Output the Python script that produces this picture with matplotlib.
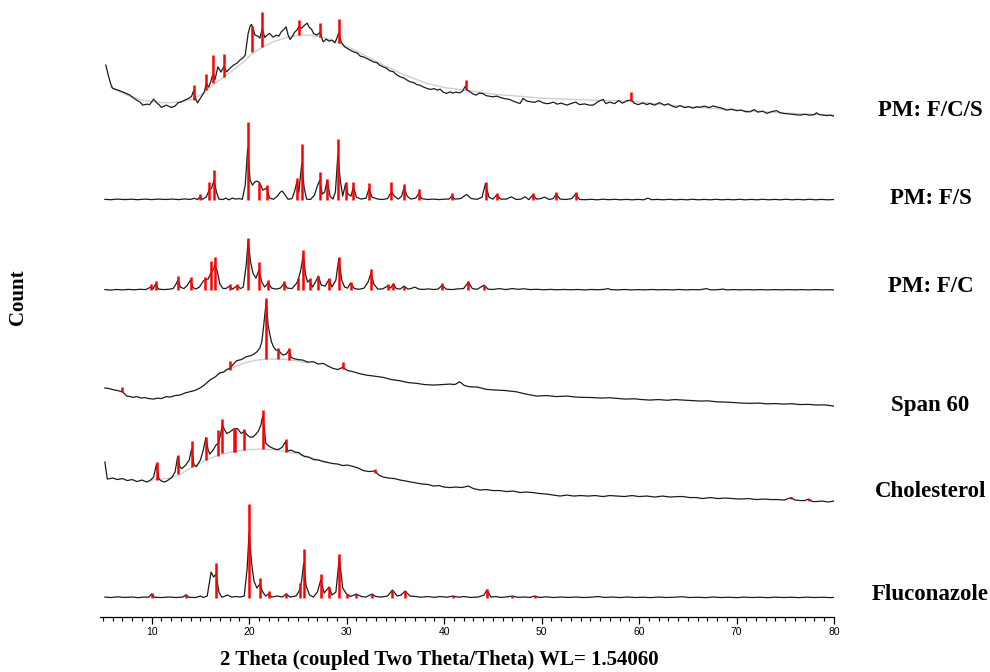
import numpy as np
import matplotlib.pyplot as plt
from matplotlib.ticker import MultipleLocator

# ---- data: (2theta, counts) ----
fluconazole = [
    (5.2, 1), (5.8, 0.5), (6.5, 1.2), (7.2, 0.6), (8.0, 1), (8.6, 0.4), (9.3, 1), (9.7, 0.8), (10.0, 4),
    (10.3, 0.8), (11.0, 0.5), (11.8, 1), (12.5, 0.5), (13.2, 1), (13.5, 3), (13.8, 0.8), (14.5, 0.5),
    (15.0, 2), (15.3, 0.6), (15.7, 2), (16.1, 26), (16.35, 21), (16.6, 24), (16.9, 6), (17.2, 0.8),
    (17.8, 3), (18.2, 1), (18.7, 1.5), (19.1, 1), (19.5, 2), (19.8, 30), (20.0, 66), (20.25, 35),
    (20.5, 17), (20.8, 10), (21.1, 14), (21.4, 6), (21.7, 2), (22.0, 4), (22.3, 1), (22.9, 2), (23.4, 1),
    (23.8, 4), (24.2, 1), (24.8, 2), (25.2, 8), (25.4, 18), (25.6, 35), (25.85, 12), (26.2, 3), (26.6, 1),
    (27.0, 6), (27.35, 18), (27.7, 5), (28.2, 11), (28.5, 3), (28.9, 6), (29.25, 40), (29.6, 10),
    (30.0, 4), (30.4, 1.5), (31.0, 4), (31.5, 1.5), (32.0, 1), (32.6, 4), (33.0, 1.5), (33.6, 1),
    (34.2, 2), (34.7, 8), (35.2, 2), (35.6, 3), (36.0, 7), (36.5, 2), (37.1, 1.5), (37.6, 0.8),
    (38.3, 1.5), (39.0, 0.7), (39.6, 1.5), (40.3, 0.8), (40.9, 2), (41.5, 0.8), (42.0, 1.5), (42.7, 0.6),
    (43.5, 1), (44.1, 3), (44.4, 8), (44.8, 1), (45.3, 1.5), (45.8, 0.6), (46.5, 1.2), (47.0, 2),
    (47.5, 0.8), (48.3, 1), (48.8, 0.6), (49.3, 2), (49.8, 0.6), (50.5, 1.2), (51.2, 0.5), (52.0, 1),
    (52.8, 0.6), (53.5, 1), (54.3, 0.5), (55.0, 0.8), (55.8, 1.5), (56.5, 0.6), (57.3, 1), (58.0, 0.5),
    (58.8, 1), (59.6, 0.5), (60.4, 0.8), (61.2, 0.4), (62.0, 1), (62.8, 0.5), (63.6, 0.8), (64.4, 1.3),
    (65.2, 0.5), (66.0, 0.8), (66.8, 0.4), (67.6, 1), (68.4, 0.5), (69.2, 0.8), (70.0, 0.4), (70.8, 0.9),
    (71.6, 0.5), (72.4, 0.8), (73.2, 0.4), (74.0, 0.9), (74.8, 0.5), (75.6, 0.8), (76.4, 0.4), (77.2, 0.9),
    (78.0, 0.5), (78.8, 0.8), (79.6, 0.4), (80.0, 0.6),
]
fluconazole_sticks = [
    (10.0, 0, 5.5), (13.5, 0, 4.5), (16.6, 0, 35), (20.0, 0, 94), (21.1, 0, 20), (22.0, 0, 7), (23.8, 0, 5),
    (25.2, 0, 15), (25.6, 0, 49), (27.4, 0, 24), (28.2, 0, 11), (29.2, 0, 44), (30.0, 0, 4), (31.0, 0, 4),
    (32.6, 0, 4), (34.7, 0, 8), (36.0, 0, 7), (40.9, 0, 2), (44.4, 0, 9), (47.0, 0, 2), (49.3, 0, 2),
]

cholesterol = [
    (5.2, 43), (5.45, 26), (6.0, 27), (6.5, 25.5), (7.0, 26.5), (7.5, 24.5), (8.0, 25.5), (8.5, 23.5),
    (9.0, 25), (9.5, 23), (9.9, 25), (10.2, 28), (10.5, 41), (10.75, 26), (11.0, 24), (11.35, 23),
    (11.7, 25), (12.1, 28), (12.4, 33), (12.66, 48), (12.9, 38), (13.1, 36.5), (13.5, 40), (13.85, 45),
    (14.1, 56), (14.35, 40), (14.6, 38.5), (15.0, 45), (15.3, 55), (15.56, 67.5), (15.8, 55), (15.97, 51),
    (16.3, 55), (16.6, 60), (16.85, 62), (17.05, 70), (17.25, 80), (17.45, 76), (17.7, 71.5), (18.0, 73),
    (18.4, 76), (18.8, 76.5), (19.2, 71.5), (19.5, 74), (19.8, 70), (20.1, 68), (20.4, 68), (20.7, 71),
    (20.95, 74), (21.2, 80), (21.4, 89), (21.55, 78), (21.7, 62), (21.9, 60), (22.1, 58.5), (22.4, 57),
    (22.8, 55.5), (23.1, 56), (23.4, 58), (23.74, 63.5), (23.95, 54), (24.3, 55), (24.7, 53), (25.1, 52.5),
    (25.4, 50), (25.7, 48.5), (26.1, 48), (26.6, 45.5), (27.1, 45), (27.6, 43.5), (28.1, 42.5), (28.6, 41.5),
    (29.1, 41), (29.6, 39.5), (30.1, 40), (30.7, 38.5), (31.2, 37), (31.7, 34.5), (32.3, 33.5), (32.9, 34),
    (33.3, 30), (33.75, 28), (34.3, 27), (34.9, 26.5), (35.5, 25), (36.1, 24), (36.6, 23), (37.2, 22),
    (37.8, 21), (38.4, 20.5), (38.9, 19), (39.5, 19.5), (40.0, 18), (40.6, 17.5), (41.2, 18), (41.8, 17.5),
    (42.5, 19), (43.0, 16.5), (43.7, 15), (44.3, 15.5), (45.0, 14.5), (45.7, 14.5), (46.4, 13.5), (47.1, 14),
    (47.8, 12.5), (48.4, 13), (49.1, 12.5), (49.8, 11.5), (50.5, 11), (51.2, 10), (51.9, 9), (52.6, 10),
    (53.3, 9), (54.0, 9.5), (54.8, 9), (55.5, 9.5), (56.3, 8.5), (57.0, 9.5), (57.7, 9), (58.5, 8.5),
    (59.3, 9.5), (60.0, 8.5), (60.8, 9), (61.6, 8), (62.4, 9), (63.2, 8), (64.0, 8.5), (64.5, 8.5),
    (65.2, 7.5), (65.9, 7.5), (66.5, 6.5), (67.3, 7.5), (68.1, 6.5), (68.8, 7), (69.6, 6.5), (70.4, 6),
    (71.2, 6.5), (72.0, 5.5), (72.8, 6), (73.5, 5.5), (74.2, 5.5), (74.9, 5), (75.6, 7.5), (76.0, 5),
    (76.6, 4.5), (77.0, 4.5), (77.4, 6), (77.8, 3.5), (78.2, 3.5), (78.8, 4), (79.4, 3), (80.0, 4),
]
cholesterol_bg = [
    (10.0, 25), (11.9, 27), (13.0, 31), (14.1, 38), (15.6, 45), (17.0, 50.5), (18.4, 53.5), (20.0, 55.5),
    (21.4, 56), (22.8, 55), (23.8, 53.3), (25.1, 51), (26.5, 47), (28.0, 43),
]
cholesterol_sticks = [
    (10.5, 25, 43), (12.66, 31, 50), (14.1, 38, 64), (15.56, 45, 68), (16.83, 49, 75), (17.24, 51.7, 86),
    (18.4, 53.3, 76), (18.6, 53.5, 76), (19.5, 55, 76.5), (21.4, 55.7, 95), (23.74, 53.3, 66),
    (32.9, 31.7, 36.5), (75.6, 6, 8.5), (77.4, 4, 6),
]

span60 = [
    (5.2, 22), (5.55, 21.7), (6.0, 20.5), (6.5, 19.5), (6.98, 18.3), (7.2, 16.5), (7.43, 14), (7.8, 13.5),
    (8.1, 12.7), (8.5, 13.5), (8.9, 12), (9.3, 12.5), (9.7, 11.5), (10.2, 11), (10.6, 12), (11.0, 11.5),
    (11.5, 13.5), (11.9, 13), (12.4, 14.5), (12.9, 15), (13.4, 17), (13.9, 18.3), (14.4, 19.5), (14.9, 21.7),
    (15.4, 25), (15.97, 30), (16.5, 33), (17.0, 37.3), (17.4, 38), (17.7, 40.5), (18.0, 41.7), (18.4, 46),
    (18.7, 49.3), (19.2, 50.5), (19.7, 53.3), (20.2, 54.5), (20.5, 56), (20.8, 58.3), (21.1, 62), (21.3, 68.3),
    (21.5, 85), (21.75, 108.3), (21.95, 85), (22.1, 76.7), (22.3, 68), (22.5, 63.3), (22.75, 60), (23.0, 60),
    (23.25, 57), (23.5, 55), (23.8, 56), (24.1, 60), (24.3, 53), (24.5, 51.7), (25.0, 50.5), (25.5, 50),
    (26.0, 48), (26.6, 48.3), (27.1, 46), (27.6, 46.7), (28.1, 44), (28.6, 41.7), (29.1, 40.5), (29.6, 42.7),
    (30.1, 39.5), (30.7, 38.3), (31.3, 36.5), (32.0, 35), (32.8, 34), (33.75, 32.7), (34.6, 30.5),
    (35.5, 29.3), (36.3, 27.5), (37.2, 26.7), (38.0, 25.5), (38.9, 25), (39.8, 25.5), (40.6, 26), (41.1, 25.5),
    (41.6, 28.3), (42.1, 24.5), (42.6, 23.3), (43.4, 23), (44.35, 20.7), (45.3, 20), (46.3, 19.5),
    (47.4, 18.3), (48.4, 16), (49.5, 14), (50.5, 14.5), (51.5, 13.5), (52.6, 14), (53.5, 13), (54.3, 12.7),
    (55.2, 12.5), (56.1, 12), (57.0, 12.3), (57.7, 11.7), (58.6, 11), (59.5, 11.3), (60.3, 10.5), (61.1, 10),
    (62.0, 10.5), (62.9, 9.8), (63.7, 10.5), (64.5, 10), (65.4, 9.5), (66.3, 9), (67.1, 9.2), (67.9, 8.3),
    (68.8, 8), (69.6, 7.6), (70.5, 7), (71.4, 6.7), (72.3, 7), (73.1, 6.2), (74.0, 6.5), (74.8, 6),
    (75.7, 6.3), (76.5, 5.5), (77.4, 5.7), (78.2, 5), (79.0, 5.2), (79.6, 4.5), (80.0, 4),
]
span60_bg = [
    (16.8, 36), (17.8, 40.5), (18.8, 44.5), (19.8, 48), (20.8, 50), (21.75, 51), (22.8, 51), (23.8, 50.5),
    (25.0, 49), (26.0, 47),
]
span60_sticks = [
    (6.98, 18.3, 22.7), (18.0, 40.5, 49.3), (21.75, 51, 111.7), (23.0, 51, 61.7), (24.1, 50.5, 61.7),
    (29.6, 40.7, 48.3),
]

pm_fc = [
    (5.2, 0.5), (5.8, 0), (6.4, 0.6), (7.0, 0.2), (7.6, 0.7), (8.2, 0.3), (8.8, 0.8), (9.4, 0.5), (9.9, 3),
    (10.15, 1.2), (10.4, 6), (10.7, 1), (11.2, 0.5), (11.7, 0.8), (12.2, 1.5), (12.5, 6), (12.7, 10),
    (12.95, 3), (13.3, 1.5), (13.6, 4), (14.0, 10), (14.2, 3), (14.5, 1), (14.9, 3), (15.3, 9), (15.5, 10.7),
    (15.8, 11), (16.05, 16.7), (16.3, 20), (16.5, 25), (16.75, 18), (17.0, 6), (17.3, 1.7), (17.6, 1.5),
    (18.0, 4), (18.3, 1), (18.8, 4.5), (19.1, 1.5), (19.4, 3), (19.7, 25), (19.9, 50), (20.15, 28),
    (20.4, 16.7), (20.7, 12), (21.0, 20), (21.3, 8), (21.6, 3), (21.95, 7.3), (22.3, 2), (22.8, 1), (23.2, 2),
    (23.6, 7), (23.9, 2), (24.4, 1.5), (24.8, 6), (25.0, 9), (25.3, 20), (25.55, 35), (25.8, 15), (26.0, 8),
    (26.2, 10), (26.5, 3), (26.8, 8), (27.1, 14), (27.4, 5), (27.8, 4), (28.2, 10.7), (28.5, 3), (28.9, 10),
    (29.2, 31.7), (29.5, 10), (29.8, 3), (30.1, 2), (30.4, 7), (30.8, 1.5), (31.3, 0.8), (31.8, 2), (32.2, 8),
    (32.5, 16.7), (32.8, 6), (33.2, 1), (33.7, 1.2), (34.2, 4), (34.5, 2), (34.8, 6), (35.1, 1.5), (35.5, 1),
    (35.9, 4), (36.3, 1), (36.6, 1.5), (37.0, 3), (37.4, 1), (37.9, 0.7), (38.4, 1.2), (38.9, 0.6), (39.4, 1),
    (39.8, 5), (40.2, 1), (40.8, 0.5), (41.4, 1.2), (42.0, 1.5), (42.5, 8), (42.9, 1.5), (43.4, 0.8),
    (44.1, 5), (44.5, 1), (45.0, 0.6), (45.7, 1.5), (46.3, 0.5), (47.0, 1.5), (47.6, 0.8), (48.2, 1.3),
    (48.8, 0.5), (49.5, 0.8), (50.2, 0.3), (50.9, 0.7), (51.6, 0.3), (52.3, 0.6), (53.0, 0.3), (53.7, 0.6),
    (54.4, 0.2), (55.1, 0.6), (55.8, 0.3), (56.5, 0.8), (56.8, 1.5), (57.1, 0.5), (57.8, 0.2), (58.5, 0.6),
    (59.2, 0.2), (59.9, 0.5), (60.6, 0.2), (61.3, 0.6), (62.0, 0.2), (62.7, 0.5), (63.4, 0.2), (64.1, 0.6),
    (64.8, 0.2), (65.5, 0.5), (66.2, 0.3), (66.9, 1.5), (67.3, 0.3), (68.0, 0.3), (68.6, 1), (69.0, 0.2),
    (69.7, 0.5), (70.4, 0.2), (71.1, 0.5), (71.8, 0.2), (72.5, 0.5), (73.2, 0.2), (73.9, 0.5), (74.6, 0.2),
    (75.3, 0.5), (76.0, 0.2), (76.7, 0.5), (77.4, 0.2), (78.1, 0.5), (78.8, 0.2), (79.5, 0.4), (80.0, 0.2),
]
pm_fc_sticks = [
    (9.9, 0, 6), (10.4, 0, 9), (12.7, 0, 14), (14.0, 0, 13.3), (15.5, 0, 13.3), (16.05, 0, 29), (16.5, 0, 33.3),
    (18.0, 0, 6), (18.8, 0, 6.5), (19.9, 0, 52), (21.0, 0, 27.7), (21.95, 0, 10), (23.6, 0, 9), (25.0, 0, 11.7),
    (25.55, 0, 40), (26.2, 0, 11.7), (27.1, 0, 14.3), (28.2, 0, 11.7), (29.2, 0, 33.3), (30.4, 0, 8.3),
    (32.5, 0, 21), (34.2, 0, 6), (34.8, 0, 7), (35.9, 0, 4), (39.8, 0, 7), (42.5, 0, 9), (44.1, 0, 5),
]

pm_fs = [
    (5.2, 0.7), (5.8, 0.4), (6.5, 1), (7.2, 0.5), (7.9, 0.9), (8.6, 0.4), (9.3, 1), (10.0, 0.5), (10.7, 1),
    (11.4, 0.6), (12.1, 1), (12.8, 0.5), (13.4, 1.2), (13.9, 0.6), (14.4, 1.8), (14.7, 0.5), (14.95, 3.3),
    (15.2, 0.8), (15.6, 3), (15.9, 10), (16.15, 12), (16.4, 20), (16.65, 8), (16.9, 1), (17.3, 0.5), (17.6, 2),
    (17.9, 0.3), (18.3, 2), (18.6, 1), (19.0, 1.5), (19.3, 0.8), (19.6, 15), (19.85, 51.7), (20.1, 20),
    (20.35, 15), (20.6, 18.3), (20.85, 19), (21.1, 17), (21.4, 10), (21.8, 12), (22.1, 2), (22.5, 0.8),
    (22.9, 4), (23.2, 8), (23.4, 9), (23.7, 5), (24.0, 0.8), (24.4, 1.5), (24.7, 10), (24.9, 18.3), (25.1, 8),
    (25.4, 36.7), (25.65, 12), (25.9, 1), (26.3, 0.6), (26.7, 5), (27.0, 14), (27.25, 20), (27.5, 6),
    (27.75, 8), (28.0, 20), (28.3, 4), (28.6, 1), (28.85, 8), (29.1, 45), (29.35, 20), (29.6, 4), (29.9, 16.7),
    (30.15, 6), (30.45, 4), (30.7, 13.3), (31.0, 3), (31.5, 1), (32.0, 2), (32.3, 11.7), (32.6, 3), (33.2, 1),
    (33.7, 0.6), (34.2, 1.5), (34.6, 8.3), (34.9, 4), (35.3, 1), (35.65, 4), (35.9, 12.7), (36.2, 4),
    (36.6, 1), (37.1, 2), (37.4, 6.7), (37.7, 1.5), (38.3, 0.6), (38.9, 1), (39.5, 0.5), (40.1, 1),
    (40.5, 1), (40.8, 4), (41.1, 1), (41.7, 1.5), (42.3, 5.7), (42.8, 1.5), (43.4, 0.8), (43.9, 3),
    (44.25, 16.7), (44.6, 3), (45.0, 1), (45.4, 5), (45.8, 1), (46.4, 1), (46.9, 3.3), (47.4, 0.6), (47.9, 1),
    (48.3, 3.3), (48.7, 0.5), (49.1, 5), (49.5, 1), (49.9, 1.5), (50.3, 3), (50.8, 0.6), (51.2, 1.5),
    (51.5, 6), (51.9, 1), (52.5, 0.6), (53.1, 1.5), (53.5, 6), (53.9, 0.6), (54.5, 0.4), (55.1, 0.8),
    (55.7, 0.3), (56.3, 0.9), (56.9, 0.4), (57.5, 0.8), (58.1, 0.3), (58.7, 0.7), (59.3, 0.3), (59.9, 0.7),
    (60.5, 0.3), (60.9, 2), (61.3, 0.4), (61.9, 0.7), (62.5, 0.3), (63.1, 0.8), (63.7, 0.3), (64.3, 0.7),
    (64.9, 0.3), (65.5, 0.8), (66.1, 0.3), (66.7, 0.7), (67.3, 0.3), (67.9, 0.8), (68.5, 0.3), (69.1, 0.7),
    (69.7, 0.3), (70.3, 0.8), (70.9, 0.3), (71.5, 0.7), (72.1, 0.3), (72.7, 0.8), (73.3, 0.3), (73.9, 0.7),
    (74.5, 0.3), (75.1, 0.8), (75.7, 0.3), (76.3, 0.7), (76.9, 0.3), (77.5, 0.8), (78.1, 0.3), (78.7, 0.7),
    (79.3, 0.3), (80.0, 0.6),
]
pm_fs_sticks = [
    (14.95, 0, 5.7), (15.9, 0, 17.7), (16.4, 0, 30), (19.85, 0, 77.7), (21.0, 0, 16.7), (21.8, 0, 15),
    (24.9, 0, 22.3), (25.4, 0, 55.7), (27.25, 0, 28.3), (28.0, 0, 21), (29.1, 0, 61), (29.9, 0, 18.3),
    (30.7, 0, 18.3), (32.3, 0, 16.7), (34.6, 0, 18.3), (35.9, 0, 16), (37.4, 0, 11), (40.8, 0, 6.7),
    (44.25, 0, 17.7), (45.4, 0, 7.3), (49.1, 0, 6.7), (51.5, 0, 7.7), (53.5, 0, 8.3),
]

pm_fcs = [
    (5.3, 55), (5.55, 45), (5.8, 36), (6.0, 31.7), (6.4, 30.5), (6.74, 29.3), (7.2, 27.5), (7.77, 25),
    (8.1, 22.5), (8.46, 20), (8.8, 18), (9.1, 15), (9.5, 16), (9.8, 15.5), (10.2, 21), (10.5, 17.5),
    (10.8, 15), (11.0, 12.7), (11.5, 15), (12.0, 12.7), (12.4, 14), (12.7, 17.3), (13.0, 18), (13.4, 20),
    (13.9, 22.3), (14.1, 24), (14.3, 29.3), (14.5, 22), (14.7, 17.3), (15.1, 23.3), (15.4, 28), (15.6, 36.7),
    (15.85, 33), (16.05, 38), (16.25, 45), (16.5, 40.7), (16.8, 53.3), (17.1, 48), (17.4, 53.3), (17.7, 48.3),
    (18.05, 52), (18.4, 55), (18.75, 57), (19.05, 60), (19.35, 62), (19.6, 65), (19.9, 86.7), (20.1, 94),
    (20.25, 95.7), (20.45, 90), (20.6, 85), (20.9, 84), (21.1, 82), (21.35, 91.7), (21.6, 82.7), (21.85, 85),
    (22.1, 86.7), (22.45, 83), (22.8, 85), (23.05, 84), (23.3, 88.3), (23.6, 91), (23.8, 93.3), (24.0, 85),
    (24.2, 80.7), (24.45, 84), (24.7, 88.3), (24.9, 90), (25.1, 93.3), (25.4, 92), (25.7, 95), (25.95, 97),
    (26.15, 93), (26.4, 91), (26.6, 86.7), (26.95, 85), (27.3, 88), (27.45, 82), (27.6, 78.3), (27.9, 81),
    (28.2, 79), (28.5, 80), (28.8, 77.3), (29.0, 82), (29.2, 87.3), (29.45, 78), (29.8, 73.3), (30.2, 71),
    (30.7, 68.3), (31.1, 67), (31.4, 64), (31.7, 63.3), (32.1, 61.5), (32.4, 60), (32.8, 58), (33.1, 57.5),
    (33.4, 55), (33.8, 53), (34.1, 52), (34.4, 49.3), (34.8, 48.5), (35.1, 45.5), (35.5, 43.3), (35.9, 42),
    (36.2, 40), (36.5, 38.3), (36.9, 37.5), (37.2, 35.5), (37.5, 35), (37.9, 33), (38.3, 31.5), (38.6, 30.7),
    (39.0, 31.5), (39.3, 30), (39.6, 31), (39.9, 28), (40.25, 26.7), (40.6, 28.3), (40.9, 27), (41.2, 28),
    (41.6, 27.3), (41.9, 29), (42.1, 32.7), (42.2, 34), (42.4, 30), (42.7, 28), (43.0, 26), (43.3, 25),
    (43.6, 27), (44.0, 26.5), (44.3, 24.5), (44.6, 24), (45.0, 23.3), (45.4, 24), (45.8, 22.5), (46.2, 21.5),
    (46.7, 20.7), (47.1, 19), (47.5, 17.5), (47.8, 16.7), (48.1, 21.7), (48.5, 19), (48.9, 18.3),
    (49.3, 17.8), (49.7, 19.5), (50.1, 17.5), (50.5, 16.5), (50.8, 16.7), (51.2, 18), (51.6, 16), (52.0, 17),
    (52.6, 15), (53.0, 16.5), (53.5, 18), (53.9, 15.5), (54.4, 16.2), (54.9, 15), (55.3, 15), (55.8, 18.5),
    (56.3, 20.7), (56.6, 16.5), (57.0, 18), (57.5, 16.5), (57.9, 19.5), (58.3, 17), (58.8, 19.5), (59.2, 20),
    (59.5, 17), (59.9, 15.5), (60.4, 17.2), (60.8, 15.5), (61.1, 16.7), (61.6, 15), (62.1, 17.5), (62.6, 15),
    (63.0, 16.3), (63.4, 14), (63.8, 12.7), (64.2, 14.5), (64.7, 12.5), (65.1, 13.5), (65.5, 12), (66.0, 13.5),
    (66.2, 12.7), (66.7, 14), (67.2, 12.5), (67.6, 14.2), (67.9, 13.3), (68.4, 12.3), (69.0, 10), (69.5, 11),
    (70.0, 9.5), (70.5, 10), (70.9, 8.5), (71.4, 8.3), (71.8, 10.5), (72.2, 8), (72.7, 9), (73.1, 6.7),
    (73.6, 8.5), (74.1, 9.5), (74.5, 7.3), (75.0, 6.5), (75.6, 6), (76.0, 5.5), (76.5, 5), (77.0, 5.8),
    (77.5, 5), (78.0, 5.5), (78.2, 7.3), (78.5, 5.5), (78.9, 5), (79.3, 4.5), (79.6, 5), (80.0, 4),
]
pm_fcs_bg = [
    (5.8, 33), (7.0, 27), (8.0, 23), (9.0, 20), (10.0, 18.5), (11.0, 17.5), (12.0, 17.5), (13.0, 18.5),
    (14.3, 21), (15.6, 29), (16.25, 35), (17.4, 43), (18.5, 51), (19.5, 59), (20.25, 66), (21.35, 73),
    (22.5, 78.5), (23.8, 82.5), (25.1, 85), (26.2, 85), (27.3, 83.3), (28.3, 80.5), (29.2, 77.3),
    (30.5, 71.5), (32.0, 64), (34.0, 54), (36.0, 45), (38.0, 37.5), (40.0, 32.5), (42.2, 30), (45.0, 26),
    (50.0, 22), (55.0, 20), (59.2, 19), (62.0, 16), (65.0, 13.5), (70.0, 10), (75.0, 7), (80.0, 5),
]
pm_fcs_sticks = [
    (14.3, 20, 35), (15.6, 30, 46), (16.25, 36.7, 65), (17.4, 43.3, 66), (20.25, 68, 94), (21.35, 73.3, 108.3),
    (25.1, 85, 100), (27.3, 83.3, 96.7), (29.2, 77.3, 101), (42.2, 30, 40), (59.2, 19, 28.3),
]

names = ['Fluconazole', 'Cholesterol', 'Span 60', 'PM: F/C', 'PM: F/S', 'PM: F/C/S']
traces = [fluconazole, cholesterol, span60, pm_fc, pm_fs, pm_fcs]
backgrounds = [None, cholesterol_bg, span60_bg, None, None, pm_fcs_bg]
sticks = [fluconazole_sticks, cholesterol_sticks, span60_sticks, pm_fc_sticks, pm_fs_sticks, pm_fcs_sticks]

# vertical stacking of the patterns
offsets = [19, 112, 207, 327, 417, 497]
label_y = [0.115, 0.268, 0.397, 0.574, 0.704, 0.836]

fig = plt.figure(figsize=(9.9, 6.72), dpi=100)
ax = fig.add_axes([0.101, 0.0818, 0.7414, 0.918])

for data, bg, st, off in zip(traces, backgrounds, sticks, offsets):
    tt, cnt = np.array(data).T
    if bg is not None:
        bx, by = np.array(bg).T
        ax.plot(bx, by + off, color='#cfcfcf', lw=1.0, zorder=1)
    ax.plot(tt, cnt + off, color='#1c1c1c', lw=0.9, zorder=2)
    sx, s0, s1 = np.array(st).T
    ax.vlines(sx, s0 + off, s1 + off, color='#ff0000', lw=1.8, zorder=3)

ax.set_xlim(4.7, 80.0)
ax.set_ylim(0, 617)
for s in ['left', 'right', 'top']:
    ax.spines[s].set_visible(False)
ax.spines['bottom'].set_linewidth(0.9)
ax.set_yticks([])
ax.xaxis.set_major_locator(MultipleLocator(10))
ax.xaxis.set_minor_locator(MultipleLocator(1))
ax.tick_params(axis='x', which='major', length=5, width=0.9, direction='out', pad=2, labelsize=7.5)
ax.tick_params(axis='x', which='minor', length=3, width=0.8, direction='out')
for lbl in ax.get_xticklabels():
    lbl.set_fontfamily('Liberation Sans')

for name, y in zip(names, label_y):
    fig.text(0.940, y, name, ha='center', va='center', fontsize=16.5,
             fontfamily='Liberation Serif', fontweight='bold')

fig.text(0.444, 0.018, '2 Theta (coupled Two Theta/Theta) WL= 1.54060', ha='center', va='center',
         fontsize=15, fontfamily='Liberation Serif', fontweight='bold')
fig.text(0.018, 0.558, 'Count', ha='center', va='center', rotation=90, fontsize=15,
         fontfamily='Liberation Serif', fontweight='bold')

fig.savefig('out.png', dpi=100)
